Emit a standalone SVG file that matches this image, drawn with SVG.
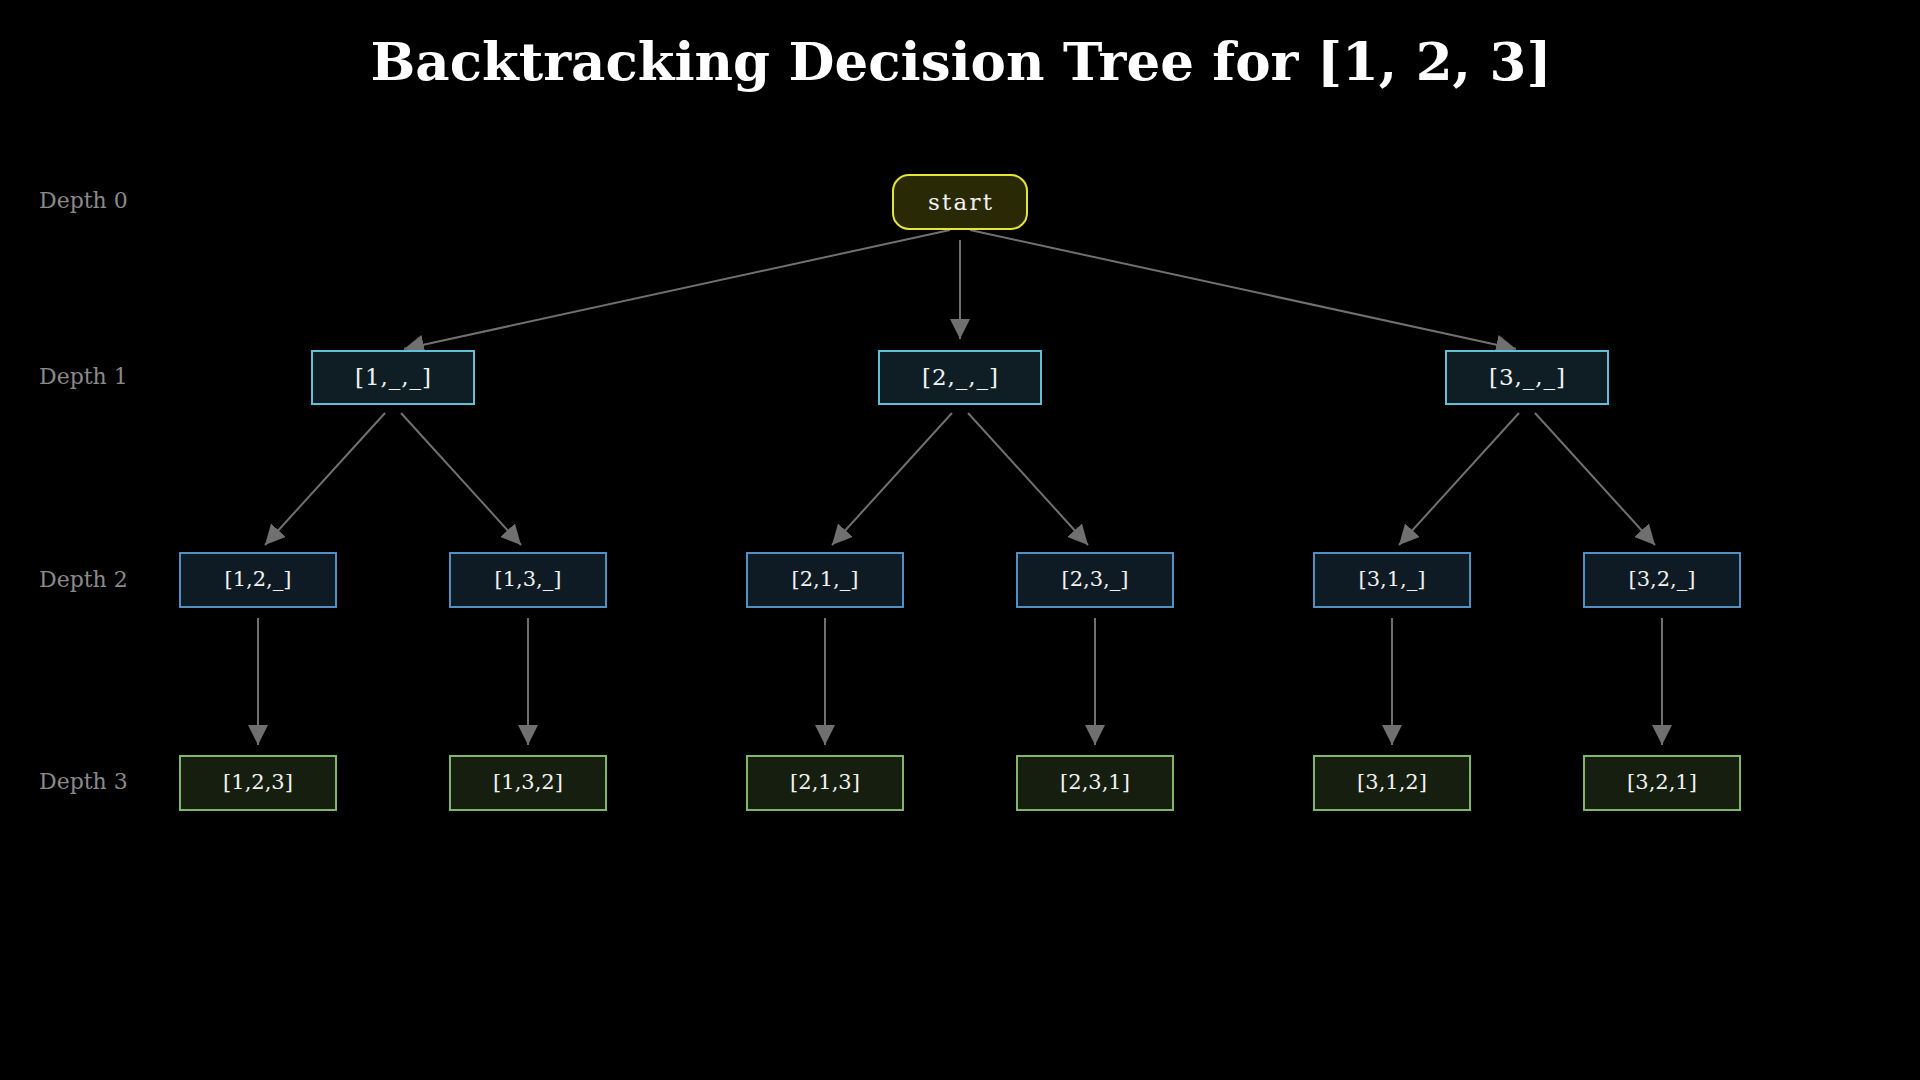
<svg xmlns="http://www.w3.org/2000/svg" width="1920" height="1080" viewBox="0 0 1920 1080">
<style>
.bg{fill:#000}
.title{font-family:"DejaVu Serif",serif;font-weight:bold;font-size:53px;fill:#ffffff;text-anchor:middle}
.depth{font-family:"DejaVu Serif",serif;font-size:22px;fill:#8a8a8a}
.lbl{font-family:"DejaVu Serif",serif;font-size:21px;fill:#f2f2f2;text-anchor:middle;dominant-baseline:central}
.big{font-size:23px}
.root{fill:#2a2905;stroke:#e6e632;stroke-width:2}
.d1{fill:#0f1e25;stroke:#62bfd8;stroke-width:2}
.d2{fill:#0f1b24;stroke:#528fc2;stroke-width:2}
.d3{fill:#161f0f;stroke:#80b56a;stroke-width:2}
.edge{stroke:#707070;stroke-width:2;fill:none;marker-end:url(#arr)}
</style>
<defs>
<marker id="arr" markerUnits="userSpaceOnUse" markerWidth="20" markerHeight="20" refX="20" refY="10" orient="auto" viewBox="0 0 20 20">
<path d="M0,0 L20,10 L0,20 z" fill="#707070"/>
</marker>
</defs>
<rect class="bg" x="0" y="0" width="1920" height="1080"/>
<text class="title" x="961" y="80">Backtracking Decision Tree for [1, 2, 3]</text>
<g id="depth-labels">
<text class="depth" x="39" y="208">Depth 0</text>
<text class="depth" x="39" y="384">Depth 1</text>
<text class="depth" x="39" y="587">Depth 2</text>
<text class="depth" x="39" y="789">Depth 3</text>
</g>
<g id="connectors">
<line class="edge" x1="950" y1="230" x2="404" y2="349"/>
<line class="edge" x1="960" y1="240" x2="960" y2="339"/>
<line class="edge" x1="970" y1="230" x2="1516" y2="349"/>
<line class="edge" x1="385" y1="413" x2="265" y2="545"/>
<line class="edge" x1="401" y1="413" x2="521" y2="545"/>
<line class="edge" x1="952" y1="413" x2="832" y2="545"/>
<line class="edge" x1="968" y1="413" x2="1088" y2="545"/>
<line class="edge" x1="1519" y1="413" x2="1399" y2="545"/>
<line class="edge" x1="1535" y1="413" x2="1655" y2="545"/>
<line class="edge" x1="258" y1="618" x2="258" y2="745"/>
<line class="edge" x1="528" y1="618" x2="528" y2="745"/>
<line class="edge" x1="825" y1="618" x2="825" y2="745"/>
<line class="edge" x1="1095" y1="618" x2="1095" y2="745"/>
<line class="edge" x1="1392" y1="618" x2="1392" y2="745"/>
<line class="edge" x1="1662" y1="618" x2="1662" y2="745"/>
</g>
<g id="start"><rect class="root" x="893" y="175" width="134" height="54" rx="16"/><text class="lbl big" x="960" y="202" textLength="64" lengthAdjust="spacing">start</text></g>
<g id="n1"><rect class="d1" x="312" y="351" width="162" height="53"/><text class="lbl big" x="393" y="377" textLength="76" lengthAdjust="spacing">[1,_,_]</text></g>
<g id="n2"><rect class="d1" x="879" y="351" width="162" height="53"/><text class="lbl big" x="960" y="377" textLength="76" lengthAdjust="spacing">[2,_,_]</text></g>
<g id="n3"><rect class="d1" x="1446" y="351" width="162" height="53"/><text class="lbl big" x="1527" y="377" textLength="76" lengthAdjust="spacing">[3,_,_]</text></g>
<g id="n12"><rect class="d2" x="180" y="553" width="156" height="54"/><text class="lbl" x="258" y="579">[1,2,_]</text></g>
<g id="n13"><rect class="d2" x="450" y="553" width="156" height="54"/><text class="lbl" x="528" y="579">[1,3,_]</text></g>
<g id="n21"><rect class="d2" x="747" y="553" width="156" height="54"/><text class="lbl" x="825" y="579">[2,1,_]</text></g>
<g id="n23"><rect class="d2" x="1017" y="553" width="156" height="54"/><text class="lbl" x="1095" y="579">[2,3,_]</text></g>
<g id="n31"><rect class="d2" x="1314" y="553" width="156" height="54"/><text class="lbl" x="1392" y="579">[3,1,_]</text></g>
<g id="n32"><rect class="d2" x="1584" y="553" width="156" height="54"/><text class="lbl" x="1662" y="579">[3,2,_]</text></g>
<g id="n123"><rect class="d3" x="180" y="756" width="156" height="54"/><text class="lbl" x="258" y="782">[1,2,3]</text></g>
<g id="n132"><rect class="d3" x="450" y="756" width="156" height="54"/><text class="lbl" x="528" y="782">[1,3,2]</text></g>
<g id="n213"><rect class="d3" x="747" y="756" width="156" height="54"/><text class="lbl" x="825" y="782">[2,1,3]</text></g>
<g id="n231"><rect class="d3" x="1017" y="756" width="156" height="54"/><text class="lbl" x="1095" y="782">[2,3,1]</text></g>
<g id="n312"><rect class="d3" x="1314" y="756" width="156" height="54"/><text class="lbl" x="1392" y="782">[3,1,2]</text></g>
<g id="n321"><rect class="d3" x="1584" y="756" width="156" height="54"/><text class="lbl" x="1662" y="782">[3,2,1]</text></g>
</svg>
